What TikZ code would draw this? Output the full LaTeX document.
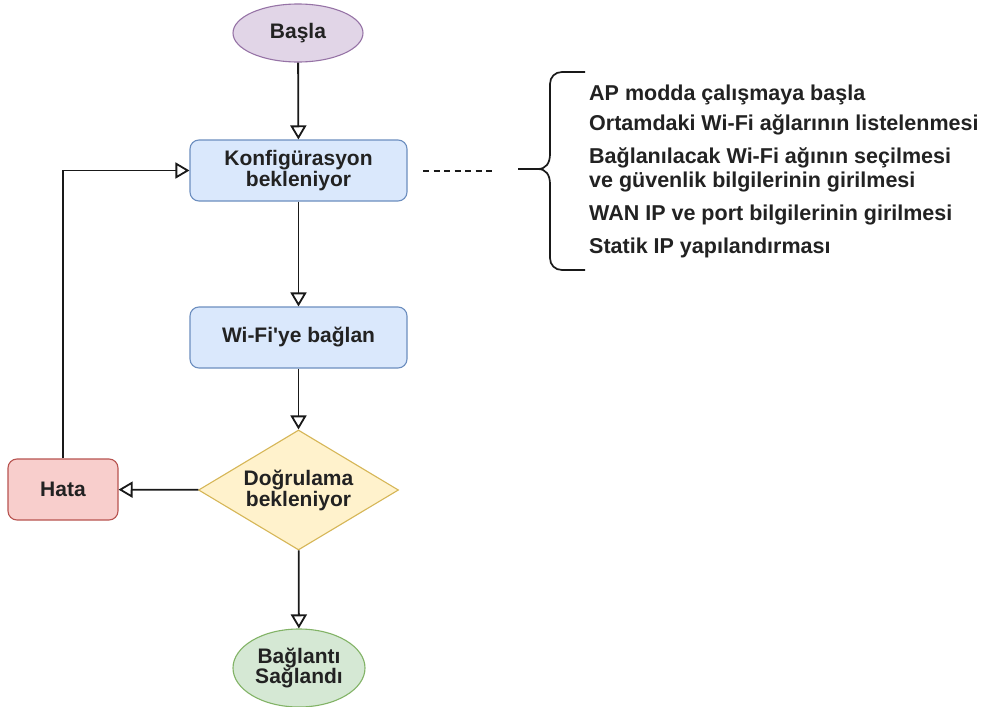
\documentclass[tikz,border=0pt]{standalone}
\usepackage{fontspec}
\setmainfont{Liberation Sans}[Ligatures=TeXOff]
\usetikzlibrary{arrows.meta,shapes.geometric}

\definecolor{txt}{HTML}{222222}
\definecolor{startfill}{HTML}{E1D5E7}
\definecolor{startline}{HTML}{9673A6}
\definecolor{procfill}{HTML}{DAE8FC}
\definecolor{procline}{HTML}{6C8EBF}
\definecolor{decfill}{HTML}{FFF2CC}
\definecolor{decline}{HTML}{D6B656}
\definecolor{errfill}{HTML}{F8CECC}
\definecolor{errline}{HTML}{B85450}
\definecolor{endfill}{HTML}{D5E8D4}
\definecolor{endline}{HTML}{82B366}

\tikzset{
  x=1pt, y=-1pt,
  every node/.style={font=\bfseries\fontsize{21}{21}\selectfont, text=txt, align=center, inner sep=0pt},
  terminal/.style={ellipse, draw=#1, line width=1.1pt},
  procbox/.style={rectangle, rounded corners=9pt, draw=procline, fill=procfill, line width=1.1pt,
                  minimum width=217pt, minimum height=61pt},
  decision/.style={diamond, draw=decline, fill=decfill, line width=1.1pt, aspect=1.667,
                   minimum width=200pt, minimum height=120pt},
  errbox/.style={rectangle, rounded corners=9pt, draw=errline, fill=errfill, line width=1.1pt,
                 minimum width=110pt, minimum height=61pt},
  flow/.style={draw=black!90, line width=1.8pt,
               -{Triangle[open, length=14pt, width=16pt, line width=1.8pt]}},
  item/.style={anchor=west, align=left, text height=15pt, text depth=4.5pt,
               font=\bfseries\fontsize{21.5}{21.5}\selectfont},
  bracket/.style={draw=black!90, line width=1.7pt},
}

\begin{document}
\begin{tikzpicture}
  \useasboundingbox[fill=white] (0,0) rectangle (989,707);

  % flow nodes
  \node[terminal=startline, fill=startfill, minimum width=130pt, minimum height=58pt]
        (start) at (298,33) {Başla};
  \node[procbox] (konf) at (298.5,170.5) {Konfigürasyon\\bekleniyor};
  \node[procbox] (wifi) at (298.5,337.5) {Wi-Fi'ye bağlan};
  \node[decision] (dogr) at (298.5,490) {Doğrulama\\bekleniyor};
  \node[errbox] (hata) at (63,489.5) {Hata};
  \node[terminal=endline, fill=endfill, minimum width=132pt, minimum height=78pt,
        font=\bfseries\fontsize{21}{20}\selectfont]
        (son) at (299,668) {Bağlantı\\Sağlandı};

  % connectors
  \draw[flow] (start) -- (konf);
  \draw[flow] (konf) -- (wifi);
  \draw[flow] (wifi) -- (dogr);
  \draw[flow] (dogr) -- (hata);
  \draw[flow] (dogr) -- (son);
  \draw[flow] (hata.north) |- (konf.west);

  % dashed link to the configuration steps
  \coordinate (dashA) at (423,171);
  \coordinate (dashB) at (495,171);
  \draw[black!90, line width=1.5pt, dash pattern=on 6pt off 4.5pt] (dashA) -- (dashB);

  % curly bracket grouping the steps
  \coordinate (tip) at (518,169);
  \draw[bracket] (585,72) -- (562,72)
      .. controls (555,72) and (550,77) .. (550,84) -- (550,154)
      .. controls (550,163) and (546,169) .. (538,169) -- (tip);
  \draw[bracket] (538,169)
      .. controls (546,169) and (550,175) .. (550,184) -- (550,258)
      .. controls (550,265) and (555,270) .. (562,270) -- (585,270);

  % configuration steps
  \node[item] (s1) at (589,95)  {AP modda çalışmaya başla};
  \node[item] (s2) at (589,125) {Ortamdaki Wi-Fi ağlarının listelenmesi};
  \node[anchor=west, align=left, font=\bfseries\fontsize{21.5}{24}\selectfont]
        (s3) at (589,170) {Bağlanılacak Wi-Fi ağının seçilmesi\\ve güvenlik bilgilerinin girilmesi};
  \node[item] (s4) at (589,215) {WAN IP ve port bilgilerinin girilmesi};
  \node[item] (s5) at (589,248) {Statik IP yapılandırması};
\end{tikzpicture}
\end{document}
